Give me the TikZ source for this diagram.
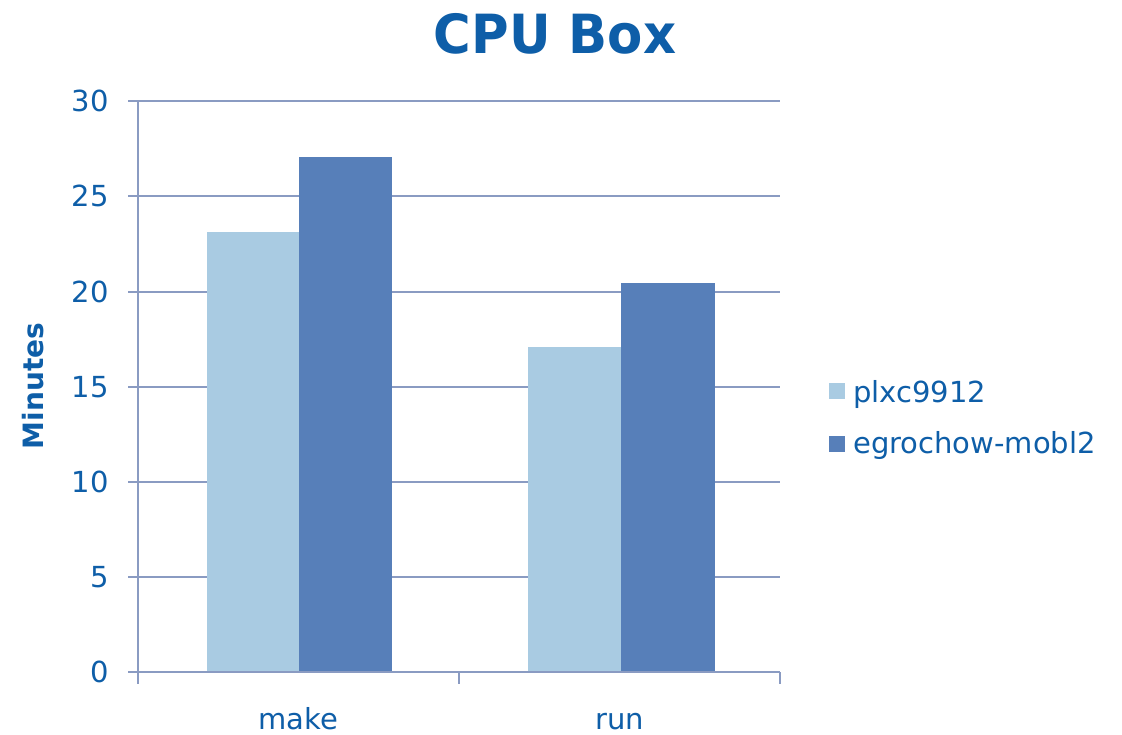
\documentclass[tikz,border=0pt]{standalone}
\usepackage{fontspec}
\setmainfont{DejaVu Sans}
\definecolor{txt}{RGB}{14,94,168}
\definecolor{grid}{RGB}{138,155,194}
\definecolor{lightbar}{RGB}{169,203,226}
\definecolor{darkbar}{RGB}{87,127,185}
\begin{document}
\begin{tikzpicture}[x=1pt,y=-1pt,
  gridline/.style={draw=grid,line width=2.6pt},
  ticklab/.style={anchor=east,text=txt,inner sep=0pt,font=\fontsize{29}{34}\selectfont},
  catlab/.style={anchor=base,text=txt,inner sep=0pt,font=\fontsize{29}{34}\selectfont},
  legtext/.style={anchor=base west,text=txt,inner sep=0pt,font=\fontsize{29}{34}\selectfont},
  barA/.style={fill=lightbar,draw=none},
  barB/.style={fill=darkbar,draw=none}]
\useasboundingbox[fill=white] (0,0) rectangle (1122,734);
% gridlines
\foreach \v/\yy in {30/101,25/196,20/292,15/387,10/482,5/577} {
  \draw[gridline] (128,\yy) -- (780,\yy);
  \node[ticklab] (t\v) at (109,\yy) {\v};
}
\node[ticklab] (t0) at (109,672) {0};
% bars
\fill[barA] (207,672) rectangle (299,232);
\fill[barB] (299,672) rectangle (392,157);
\fill[barA] (528,672) rectangle (621,347);
\fill[barB] (621,672) rectangle (715,283);
% axes
\draw[gridline] (138,101) -- (138,684);
\draw[gridline] (128,672) -- (780,672);
\draw[gridline] (459,672) -- (459,684);
\draw[gridline] (780,672) -- (780,684);
% category labels
\node[catlab] (make) at (298.5,729) {make};
\node[catlab] (run) at (620,729) {run};
% y label
\node[text=txt,rotate=90,inner sep=0pt,font=\bfseries\fontsize{28}{33}\selectfont] (ylab) at (33,386) {Minutes};
% title
\node[text=txt,anchor=base,inner sep=0pt,xscale=0.95,font=\bfseries\fontsize{54}{60}\selectfont] (title) at (555,53) {CPU Box};
% legend
\fill[lightbar] (829,383) rectangle (845,399);
\fill[darkbar] (829,436) rectangle (845,452);
\node[legtext] (l1) at (853,402) {plxc9912};
\node[legtext] (l2) at (853,453) {egrochow-mobl2};
\end{tikzpicture}
\end{document}
